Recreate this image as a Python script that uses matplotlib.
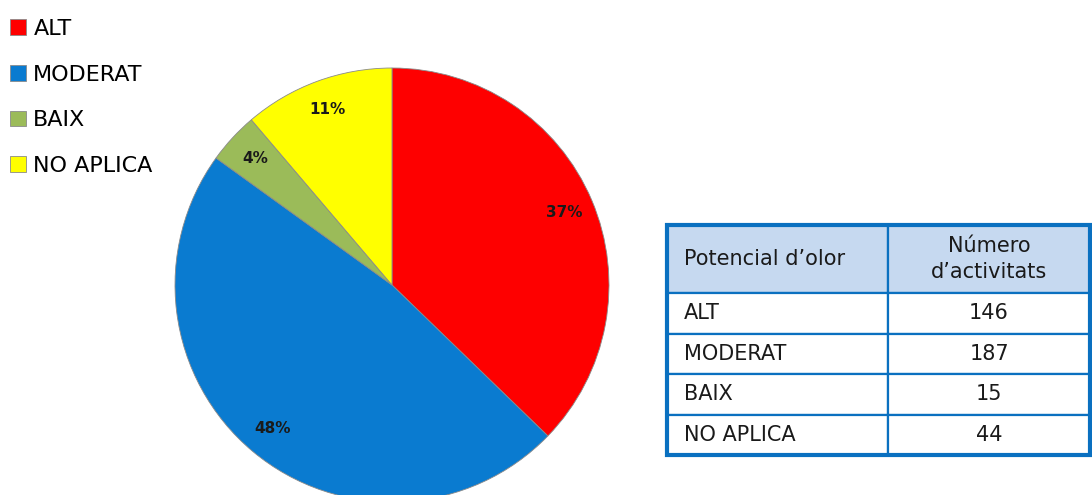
import matplotlib.pyplot as plt
from matplotlib.patches import Rectangle

# data
categories = ['ALT', 'MODERAT', 'BAIX', 'NO APLICA']
counts = [146, 187, 15, 44]
colors = ['#FE0000', '#0A7BD0', '#9BBB59', '#FFFF00']
header = ['Potencial d\u2019olor', 'Número\nd\u2019activitats']

W, H = 1092, 495
fig = plt.figure(figsize=(W / 100, H / 100), dpi=100)
plt.rcParams['font.family'] = ['DejaVu Sans']

# pie: centre (392, 285) px, radius 217 px
cx, cy, r = 392, 285, 217
lim = 1.05
ax = fig.add_axes([(cx - r * lim) / W, (H - cy - r * lim) / H, 2 * r * lim / W, 2 * r * lim / H])
wedges, texts, autotexts = ax.pie(counts, colors=colors, startangle=90, counterclock=False,
                                  autopct='%1.0f%%', pctdistance=0.86,
                                  wedgeprops=dict(edgecolor='#8a8a8a', linewidth=0.6),
                                  textprops=dict(fontsize=11, fontweight='bold', color='#1a1a1a'))
ax.set_xlim(-lim, lim)
ax.set_ylim(-lim, lim)

# legend top-left
fig.legend(wedges, categories, loc='upper left', bbox_to_anchor=(10 / W, 1 - 19 / H),
           frameon=False, fontsize=16, handlelength=0.7, handleheight=0.7,
           handletextpad=0.35, labelspacing=1.15, borderaxespad=0, borderpad=0)

# table on the right
tax = fig.add_axes([0, 0, 1, 1])
tax.axis('off')
left, right, top, bottom = 667, 1090, 225, 455
cell_text = [[c, str(n)] for c, n in zip(categories, counts)]
tbl = tax.table(cellText=cell_text, colLabels=header, colWidths=[221, 202],
                bbox=[left / W, (H - bottom) / H, (right - left) / W, (bottom - top) / H])
tbl.auto_set_font_size(False)
tbl.set_fontsize(15)
blue = '#0A70C0'
for (row, col), cell in tbl.get_celld().items():
    cell.set_edgecolor(blue)
    cell.set_linewidth(1.6)
    cell.get_text().set_color('#1a1a1a')
    if row == 0:
        cell.set_facecolor('#C6D9F0')
        cell.set_height(cell.get_height() * 68 / 40.5)
        cell.get_text().set_linespacing(1.35)
    if col == 0:
        cell.PAD = 0.075
        cell._loc = 'left'
        cell.get_text().set_ha('left')
    else:
        cell._loc = 'center'
        cell.get_text().set_ha('center')
        cell.get_text().set_multialignment('center')

tax.add_patch(Rectangle((left / W, (H - bottom) / H), (right - left) / W, (bottom - top) / H,
                        transform=tax.transAxes, fill=False, edgecolor=blue, linewidth=3, zorder=5))

fig.savefig('out.png', dpi=100)
